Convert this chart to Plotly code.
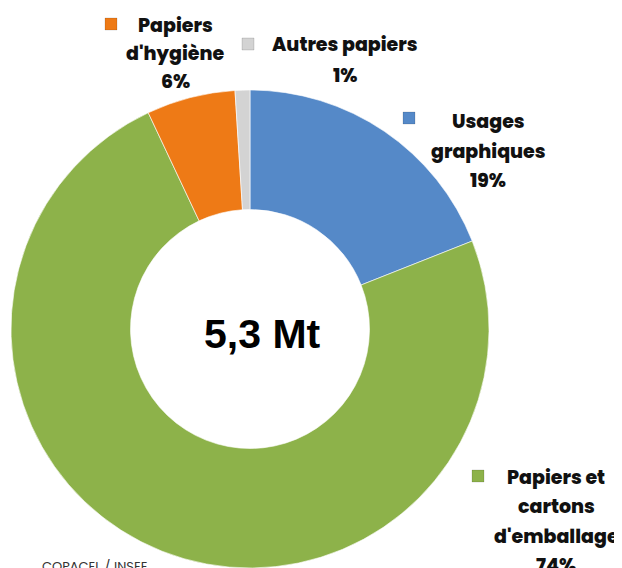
import plotly.graph_objects as go

# parts of paper/board consumption (%)
categories = ["Usages graphiques", "Papiers et cartons d'emballage", "Papiers d'hygiène", "Autres papiers"]
shares = [19, 74, 6, 1]
label_lines = [
    ["Usages", "graphiques"],
    ["Papiers et", "cartons", "d'emballage"],
    ["Papiers", "d'hygiène"],
    ["Autres papiers"],
]
colors = ["#5589C8", "#8DB24A", "#EE7A16", "#D3D3D3"]
total_label = "5,3 Mt"
source = "COPACEL / INSEE"

# page body has an 8px margin, so the figure is a bit smaller than the window
OFF = 8
W, H = 622 - OFF, 568 - OFF
FONT = "Poppins, Open Sans, sans-serif"


def fx(px_x):
    # window pixel -> paper fraction
    return (px_x - OFF) / W


def fy(px_y):
    return 1 - (px_y - OFF) / H


# donut: centre (250, 329), radius 239 px
cx, cy, r = 250, 329, 239

fig = go.Figure(
    go.Pie(
        labels=categories,
        values=shares,
        hole=0.5,
        sort=False,
        direction="clockwise",
        rotation=0,
        textinfo="none",
        hoverinfo="label+percent",
        marker=dict(colors=colors, line=dict(color="rgba(255,255,255,0.6)", width=1)),
        domain=dict(x=[fx(cx - r), fx(cx + r)], y=[max(0, fy(cy + r)), fy(cy - r)]),
        showlegend=False,
    )
)

# label layout: text centre x, first line y, line step, marker centre
label_pos = [
    dict(x=488, y=122, step=29, mx=409, my=118),
    dict(x=556, y=477, step=29.5, mx=478, my=476),
    dict(x=175, y=25, step=28.5, mx=111, my=24),
    dict(x=345, y=45, step=30, mx=248, my=44),
]

annotations = []
shapes = []
for lines, val, pos, col in zip(label_lines, shares, label_pos, colors):
    for i, txt in enumerate(lines + [f"{val}%"]):
        annotations.append(dict(
            x=fx(pos["x"]), y=fy(pos["y"] + i * pos["step"]),
            xref="paper", yref="paper", xanchor="center", yanchor="middle",
            text=txt, showarrow=False,
            font=dict(family=FONT, size=19, color="#111111", weight=800),
        ))
    shapes.append(dict(
        type="rect", xref="paper", yref="paper",
        x0=fx(pos["mx"] - 6), x1=fx(pos["mx"] + 6),
        y0=fy(pos["my"] + 6), y1=fy(pos["my"] - 6),
        fillcolor=col, line=dict(color="rgba(0,0,0,0.25)", width=0.5),
    ))

annotations.append(dict(
    x=fx(262), y=fy(334), xref="paper", yref="paper",
    xanchor="center", yanchor="middle", text=f"<b>{total_label}</b>", showarrow=False,
    font=dict(family="Liberation Sans, Arial, sans-serif", size=41, color="#000000", weight="bold"),
))
annotations.append(dict(
    x=fx(40), y=fy(566), xref="paper", yref="paper",
    xanchor="left", yanchor="middle", text=source, showarrow=False,
    font=dict(family=FONT, size=13, color="#333333"),
))

fig.update_layout(
    width=W, height=H,
    margin=dict(l=0, r=0, t=0, b=0),
    paper_bgcolor="white", plot_bgcolor="white",
    annotations=annotations, shapes=shapes,
)

fig.write_html("out.html")
